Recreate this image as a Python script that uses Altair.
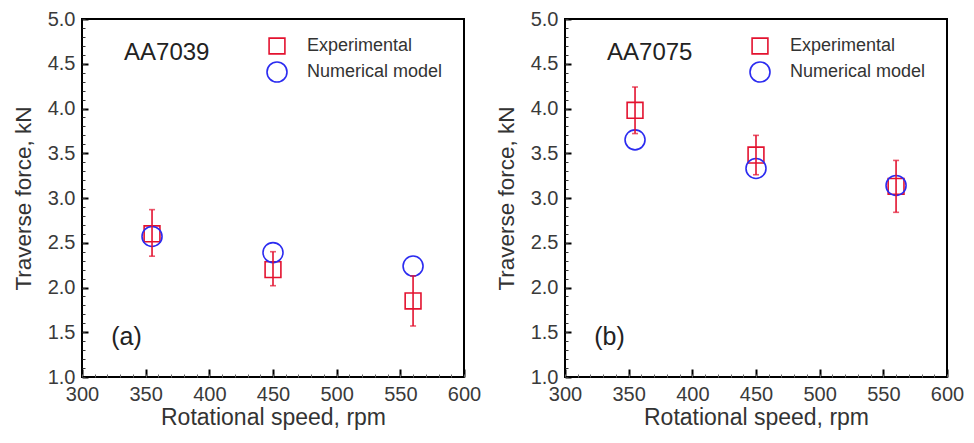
import altair as alt
import pandas as pd

rpm = [355, 450, 560]

# Panel (a) AA7039
a_exp = [2.60, 2.20, 1.85]
a_exp_lo = [2.35, 2.02, 1.57]
a_exp_hi = [2.87, 2.40, 2.13]
a_num = [2.57, 2.39, 2.24]

# Panel (b) AA7075
b_exp = [3.98, 3.48, 3.13]
b_exp_lo = [3.72, 3.26, 2.84]
b_exp_hi = [4.24, 3.70, 3.42]
b_num = [3.65, 3.33, 3.14]

x_ticks = [300, 350, 400, 450, 500, 550, 600]
x_minor = list(range(300, 601, 10))
y_ticks = [1.0, 1.5, 2.0, 2.5, 3.0, 3.5, 4.0, 4.5, 5.0]
y_minor = [round(1.0 + 0.1 * i, 1) for i in range(41)]

series = ["Experimental", "Numerical model"]
RED = "#e3122f"
BLUE = "#2b2bf0"
FONT = "Liberation Sans"

W, H = 382, 358


def legend():
    return alt.Legend(title=None, orient="none", legendX=184, legendY=18,
                      labelFontSize=18, labelFont=FONT, labelColor="#333",
                      labelOffset=19, rowPadding=0, symbolStrokeWidth=1.6,
                      padding=0)


def panel(exp, lo, hi, num, alloy, tag):
    pts = pd.DataFrame({
        "rpm": rpm + rpm,
        "value": exp + num,
        "series": [series[0]] * 3 + [series[1]] * 3,
    })
    err = pd.DataFrame({"rpm": rpm, "lo": lo, "hi": hi})
    name_df = pd.DataFrame({"rpm": [333], "value": [4.62], "text": [alloy]})
    tag_df = pd.DataFrame({"rpm": [323], "value": [1.45], "text": [tag]})

    xs = alt.Scale(domain=[300, 600], nice=False)
    ys = alt.Scale(domain=[1.0, 5.0], nice=False)

    x_major = alt.X("rpm:Q", scale=xs, axis=alt.Axis(
        orient="bottom", values=x_ticks, format="d", tickSize=8, offset=-8,
        domain=False, grid=False, labelPadding=7, tickColor="#000",
        tickWidth=2, labelFontSize=20, labelColor="#3a3a3a", labelFont=FONT,
        labelFlush=False, labelOverlap=False,
        title="Rotational speed, rpm", titleFontSize=23, titleFont=FONT,
        titleFontWeight="normal", titleColor="#333", titlePadding=2))
    y_major = alt.Y("value:Q", scale=ys, axis=alt.Axis(
        orient="left", values=y_ticks, format=".1f", tickSize=6, offset=-6,
        domain=False, grid=False, labelPadding=7, tickColor="#000",
        tickWidth=2, labelFontSize=20, labelColor="#3a3a3a", labelFont=FONT,
        labelFlush=False, labelOverlap=False,
        title="Traverse force, kN", titleFontSize=22.5, titleFont=FONT,
        titleFontWeight="normal", titleColor="#333", titlePadding=12))

    points = alt.Chart(pts).mark_point(filled=False, strokeWidth=1.6, opacity=1).encode(
        x=x_major,
        y=y_major,
        color=alt.Color("series:N", scale=alt.Scale(domain=series, range=[RED, BLUE]),
                        legend=legend()),
        shape=alt.Shape("series:N", scale=alt.Scale(domain=series, range=["square", "circle"]),
                        legend=legend()),
        size=alt.Size("series:N", scale=alt.Scale(domain=series, range=[250, 400]),
                      legend=legend()),
    )

    bars = alt.Chart(err).mark_rule(color=RED, strokeWidth=1.6).encode(
        x=alt.X("rpm:Q", scale=xs, axis=None),
        y=alt.Y("lo:Q", scale=ys, axis=None),
        y2="hi:Q",
    )
    caps = alt.Chart(err).transform_fold(["lo", "hi"], as_=["k", "v"]).mark_tick(
        color=RED, orient="horizontal", size=6, thickness=1.6).encode(
        x=alt.X("rpm:Q", scale=xs, axis=None),
        y=alt.Y("v:Q", scale=ys, axis=None),
    )

    name = alt.Chart(name_df).mark_text(align="left", baseline="middle", font=FONT,
                                        color="#222", fontSize=24).encode(
        x=alt.X("rpm:Q", scale=xs, axis=alt.Axis(
            orient="bottom", values=x_minor, tickSize=3, offset=-3, labels=False,
            domain=False, grid=False, title=None, tickColor="#666", tickWidth=1)),
        y=alt.Y("value:Q", scale=ys, axis=alt.Axis(
            orient="left", values=y_minor, tickSize=3, offset=-3, labels=False,
            domain=False, grid=False, title=None, tickColor="#333", tickWidth=1)),
        text="text:N",
    )
    tagt = alt.Chart(tag_df).mark_text(align="left", baseline="middle", font=FONT,
                                       color="#222", fontSize=25).encode(
        x=alt.X("rpm:Q", scale=xs, axis=None),
        y=alt.Y("value:Q", scale=ys, axis=None),
        text="text:N",
    )

    return alt.layer(points, bars, caps, name, tagt).resolve_axis(
        x="independent", y="independent").properties(width=W, height=H)


chart = alt.hconcat(
    panel(a_exp, a_exp_lo, a_exp_hi, a_num, "AA7039", "(a)"),
    panel(b_exp, b_exp_lo, b_exp_hi, b_num, "AA7075", "(b)"),
    spacing=12,
).resolve_scale(color="independent", shape="independent", size="independent").properties(
    padding={"left": 3, "top": 0, "right": 0, "bottom": 0}, background="white"
).configure_view(
    stroke="#000", strokeWidth=2
)

chart.save("out.html", embed_options={"renderer": "svg", "actions": False})
